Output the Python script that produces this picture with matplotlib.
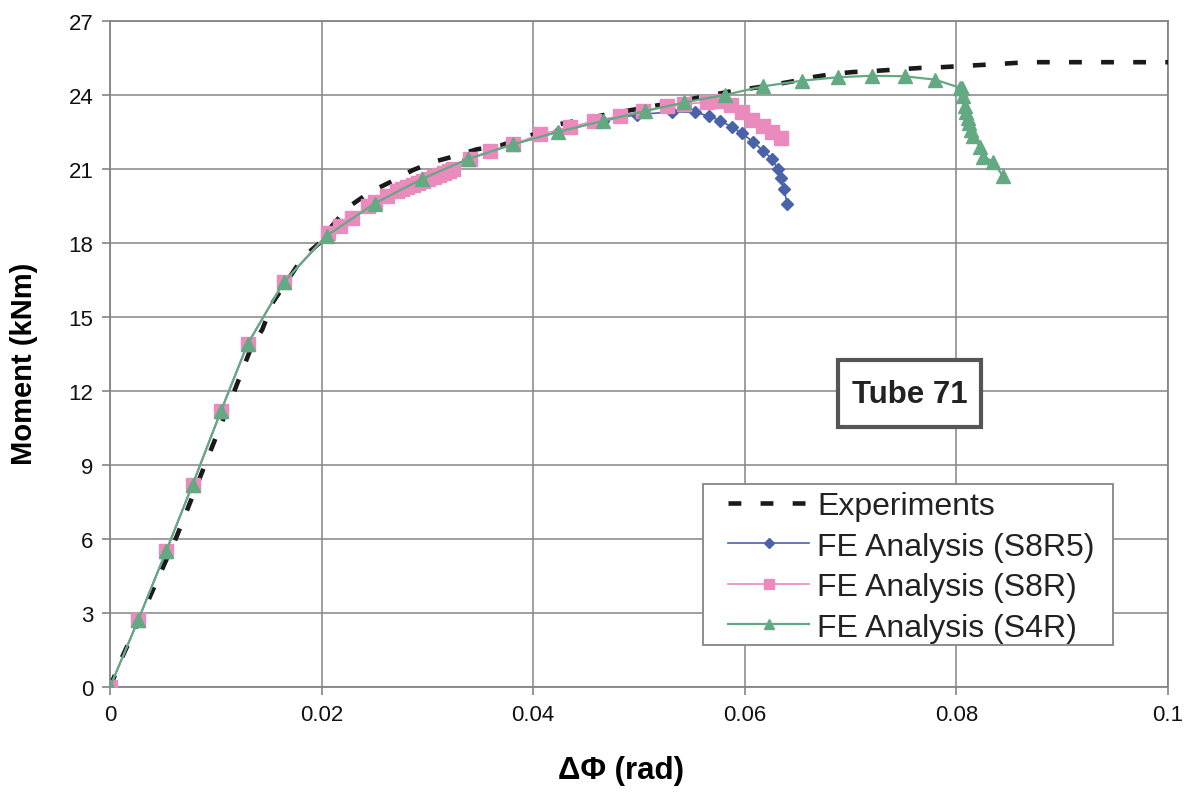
import matplotlib
matplotlib.use("Agg")
import matplotlib.pyplot as plt
from matplotlib.patches import Rectangle

plt.rcParams['font.family'] = ['Liberation Sans', 'DejaVu Sans']

# ---------------- data ----------------
exp_x = [0, 0.0012, 0.0035, 0.0063, 0.0093, 0.0113, 0.0132, 0.0144, 0.0154, 0.0182,
         0.0198, 0.0205, 0.0225, 0.0246, 0.0265, 0.0286, 0.0305, 0.0324, 0.0347,
         0.0369, 0.040, 0.0423, 0.0446, 0.0468, 0.052, 0.0569, 0.0588, 0.062,
         0.0646, 0.0665, 0.0683, 0.0702, 0.0721, 0.0767, 0.0787, 0.0837, 0.0867,
         0.090, 0.095, 0.100]
exp_y = [0, 1.26, 3.4, 6.1, 9.36, 11.5, 13.6, 14.5, 15.6, 17.4,
         18.0, 18.45, 19.45, 20.07, 20.47, 20.95, 21.28, 21.5, 21.8,
         21.95, 22.4, 22.8, 23.0, 23.2, 23.6, 24.0, 24.16, 24.36,
         24.56, 24.73, 24.85, 24.93, 24.97, 25.1, 25.13, 25.25, 25.33,
         25.33, 25.33, 25.33]

s8r5_x = [0, 0.00265, 0.0053, 0.0078, 0.0105, 0.013, 0.0164, 0.0205, 0.025,
          0.0295, 0.0338, 0.0381, 0.0423, 0.0466, 0.0498, 0.0531, 0.0553,
          0.0566, 0.0577, 0.0588, 0.0597, 0.0608, 0.0617, 0.0626, 0.0631,
          0.0634, 0.0637, 0.064]
s8r5_y = [0, 2.7, 5.5, 8.2, 11.2, 13.9, 16.4, 18.3, 19.6,
          20.6, 21.4, 22.0, 22.5, 22.95, 23.2, 23.32, 23.3,
          23.15, 22.95, 22.7, 22.45, 22.1, 21.75, 21.4, 21.0,
          20.65, 20.2, 19.6]

s8r_x = [0, 0.00265, 0.0053, 0.0078, 0.0105, 0.013, 0.0164, 0.0206, 0.0217,
         0.0229, 0.0244, 0.025, 0.0262, 0.0271, 0.0276, 0.0281, 0.0286, 0.0291,
         0.0296, 0.0301, 0.0306, 0.0311, 0.0316, 0.032, 0.0324, 0.034, 0.0359,
         0.0381, 0.0406, 0.0435, 0.0457, 0.0482, 0.0504, 0.0526, 0.0543, 0.0564,
         0.0578, 0.0587, 0.0597, 0.0607, 0.0617, 0.0626, 0.0634]
s8r_y = [0, 2.7, 5.5, 8.2, 11.2, 13.9, 16.4, 18.4, 18.7,
         19.0, 19.5, 19.65, 19.9, 20.1, 20.18, 20.27, 20.36, 20.45,
         20.53, 20.61, 20.69, 20.77, 20.85, 20.92, 21.0, 21.4, 21.73,
         22.0, 22.4, 22.7, 22.94, 23.15, 23.35, 23.55, 23.62, 23.72,
         23.75, 23.6, 23.3, 23.0, 22.75, 22.5, 22.25]

s4r_x = [0, 0.00265, 0.0053, 0.0078, 0.0105, 0.013, 0.0164, 0.0205, 0.025,
         0.0295, 0.0338, 0.0381, 0.0423, 0.0466, 0.0506, 0.0543, 0.0581,
         0.0617, 0.0654, 0.0688, 0.072, 0.0751, 0.078, 0.0803, 0.0805, 0.0806,
         0.0808, 0.0809, 0.0811, 0.0812, 0.0814, 0.0816, 0.0822, 0.0825,
         0.0835, 0.0844]
s4r_y = [0, 2.7, 5.5, 8.2, 11.2, 13.9, 16.4, 18.3, 19.6,
         20.6, 21.4, 22.0, 22.5, 22.95, 23.35, 23.7, 24.0,
         24.35, 24.58, 24.72, 24.78, 24.76, 24.62, 24.3, 24.3, 23.95,
         23.55, 23.3, 23.05, 22.85, 22.6, 22.35, 21.9, 21.5,
         21.3, 20.7]

labels = ["Experiments", "FE Analysis (S8R5)", "FE Analysis (S8R)", "FE Analysis (S4R)"]
xticks = [0, 0.02, 0.04, 0.06, 0.08, 0.1]
xtick_labels = ["0", "0.02", "0.04", "0.06", "0.08", "0.1"]
yticks = [0, 3, 6, 9, 12, 15, 18, 21, 24, 27]

# ---------------- figure ----------------
W, H = 1195, 803
fig = plt.figure(figsize=(W / 100, H / 100), dpi=100)
AX_L, AX_R, AX_T, AX_B = 110, 1168, 22, 688
ax = fig.add_axes([AX_L / W, 1 - AX_B / H, (AX_R - AX_L) / W, (AX_B - AX_T) / H])

def fx(px):
    return (px - AX_L) / (AX_R - AX_L)

def fy(py):
    return (AX_B - py) / (AX_B - AX_T)

c_blue = '#4a62a8'
c_pink = '#ea8abd'
c_green = '#63a982'

ax.plot(exp_x, exp_y, color='#1a1a1a', lw=3.3, linestyle=(0, (2.8, 4.2)),
        dash_capstyle='butt', label=labels[0], zorder=3)
ax.plot(s8r5_x, s8r5_y, color=c_blue, lw=1.2, marker='D', ms=6.5,
        mfc=c_blue, mec=c_blue, label=labels[1], zorder=4)
ax.plot(s8r_x, s8r_y, color=c_pink, lw=1.2, marker='s', ms=10,
        mfc=c_pink, mec=c_pink, label=labels[2], zorder=5)
ax.plot(s4r_x, s4r_y, color=c_green, lw=1.6, marker='^', ms=9.5,
        mfc=c_green, mec=c_green, label=labels[3], zorder=6)

ax.set_xlim(0, 0.1)
ax.set_ylim(0, 27)
ax.set_xticks(xticks)
ax.set_xticklabels(xtick_labels)
ax.set_yticks(yticks)
ax.grid(True, color='#858585', lw=1.1)
ax.set_axisbelow(True)
for s in ax.spines.values():
    s.set_color('#858585')
    s.set_linewidth(1.3)
ax.tick_params(direction='out', length=6, width=1.2, color='#858585',
               labelsize=16, pad=6, labelcolor='#111111')

ax.set_xlabel("ΔΦ (rad)", fontsize=22.5, fontweight='bold')
ax.set_ylabel("Moment (kNm)", fontsize=21, fontweight='bold')
ax.xaxis.set_label_coords(fx(621), fy(771))
ax.yaxis.set_label_coords(fx(24), fy(364))
ax.xaxis.label.set_va('center')
ax.yaxis.label.set_va('center')

# Tube label box
ax.add_patch(Rectangle((fx(838), fy(428)), fx(981) - fx(838), fy(361) - fy(428),
                       transform=ax.transAxes, facecolor='white',
                       edgecolor='#555555', lw=3.0, zorder=7))
ax.text(fx(909.5), fy(395), "Tube 71", transform=ax.transAxes, ha='center',
        va='center', fontsize=22.5, fontweight='bold', color='#222222', zorder=8)

# Legend frame drawn manually
ax.add_patch(Rectangle((fx(703), fy(646)), fx(1113) - fx(703), fy(485) - fy(646),
                       transform=ax.transAxes, facecolor='white',
                       edgecolor='#858585', lw=1.3, zorder=8.5))
leg = ax.legend(loc='upper left', bbox_to_anchor=(fx(728), fy(492)),
                fontsize=23, frameon=False, handlelength=2.55,
                handletextpad=0.25, labelspacing=0.33, borderpad=0,
                borderaxespad=0, numpoints=1, markerscale=0.75)
for t in leg.get_texts():
    t.set_color('#222222')
leg.set_zorder(9)

fig.savefig("out.png", dpi=100, facecolor='white')
